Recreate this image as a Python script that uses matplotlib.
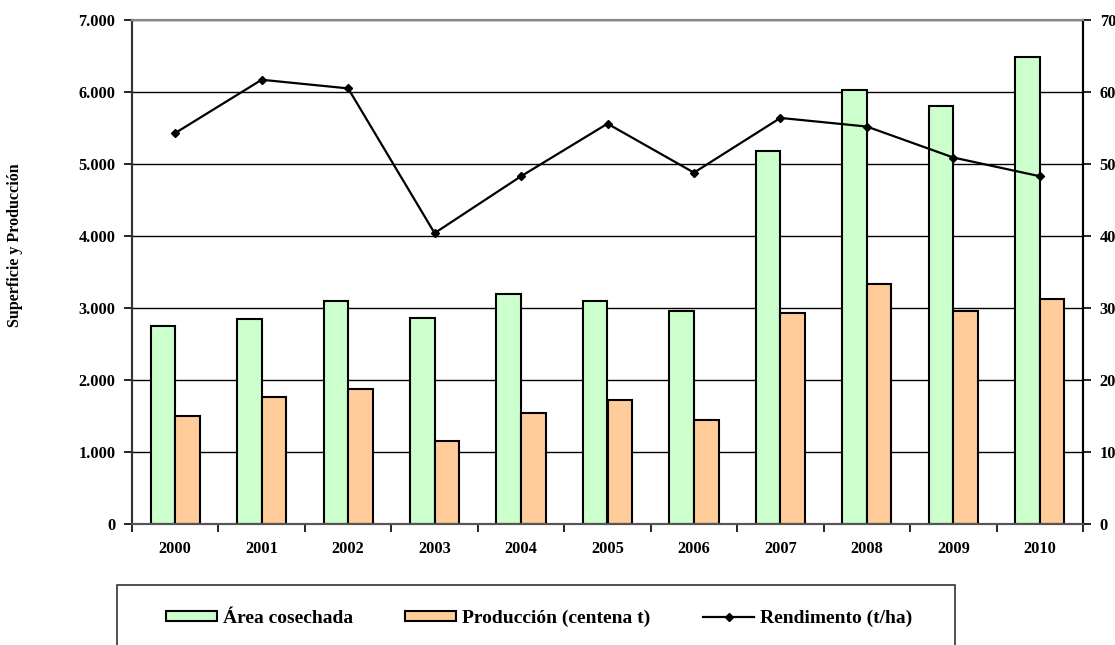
import numpy as np
import matplotlib
matplotlib.use("Agg")
import matplotlib.pyplot as plt
from matplotlib.ticker import FuncFormatter, MultipleLocator
from matplotlib.patches import Rectangle

plt.rcParams['font.family'] = ['Liberation Serif', 'DejaVu Serif']
plt.rcParams['font.weight'] = 'bold'

# datos por año
anios = ['2000', '2001', '2002', '2003', '2004', '2005',
         '2006', '2007', '2008', '2009', '2010']
area = [2750, 2852, 3097, 2866, 3190, 3097, 2958, 5185, 6032, 5810, 6481]
produccion = [1495, 1764, 1875, 1157, 1542, 1722, 1444, 2931, 3338, 2963, 3130]
rendimiento = [54.3, 61.7, 60.5, 40.4, 48.3, 55.6, 48.8, 56.4, 55.2, 50.9, 48.3]

verde = '#ccffcc'
naranja = '#ffcc99'

fig = plt.figure(figsize=(11.15, 6.45), dpi=100)
ax = fig.add_axes([132 / 1115, 121 / 645, 951 / 1115, 504 / 645])
ax2 = ax.twinx()

x = np.arange(len(anios))
w = 0.284

ax.set_axisbelow(True)
ax.yaxis.grid(True, color='black', linewidth=1.0)
ax.bar(x - w / 2, area, width=w, color=verde, edgecolor='black',
       linewidth=1.5, label='Área cosechada', zorder=2)
ax.bar(x + w / 2, produccion, width=w, color=naranja, edgecolor='black',
       linewidth=1.5, label='Producción (centena t)', zorder=2)

ax2.plot(x, rendimiento, color='black', linewidth=1.6, marker='D',
         markersize=4.5, label='Rendimento (t/ha)', zorder=3)

ax.set_xlim(-0.5, len(anios) - 0.5)
ax.set_ylim(0, 7000)
ax2.set_ylim(0, 70)
ax.yaxis.set_major_locator(MultipleLocator(1000))
ax2.yaxis.set_major_locator(MultipleLocator(10))
ax.yaxis.set_major_formatter(FuncFormatter(lambda v, p: f'{int(v):,}'.replace(',', '.')))

# marcas del eje x en los límites entre años
ax.set_xticks(x)
ax.set_xticklabels(anios)
ax.set_xticks(np.arange(-0.5, len(anios)), minor=True)
ax.tick_params(axis='x', which='major', length=0, pad=12, labelsize=11.8)
ax.tick_params(axis='x', which='minor', length=6, width=1.2, direction='out')
ax.tick_params(axis='y', length=6, width=1.2, labelsize=11.8, pad=6)
ax2.tick_params(axis='y', length=6, width=1.2, labelsize=11.8, pad=6)

for a in (ax, ax2):
    a.spines['top'].set_color('#888888')
    a.spines['bottom'].set_color('#555555')
    a.spines['left'].set_color('#333333')
    a.spines['right'].set_color('black')
    for s in a.spines.values():
        s.set_linewidth(1.5)

fig.text(15 / 1115, 1 - 245 / 645, 'Superficie y Producción', rotation=90,
         ha='center', va='center', fontsize=11.5, fontweight='bold')

# leyenda con marco abierto por abajo
fig.patches.append(Rectangle((117 / 1115, -0.05), 838 / 1115, 0.05 + 60 / 645,
                             transform=fig.transFigure, fill=False,
                             edgecolor='#333333', linewidth=1.2))
h1, l1 = ax.get_legend_handles_labels()
h2, l2 = ax2.get_legend_handles_labels()
fig.legend(h1 + h2, l1 + l2, loc='center', bbox_to_anchor=(539 / 1115, 1 - 618 / 645),
           ncol=3, frameon=False, fontsize=14, handlelength=2.63, handleheight=0.41,
           handletextpad=0.3, columnspacing=2.7)

fig.savefig('out.png', dpi=100)
